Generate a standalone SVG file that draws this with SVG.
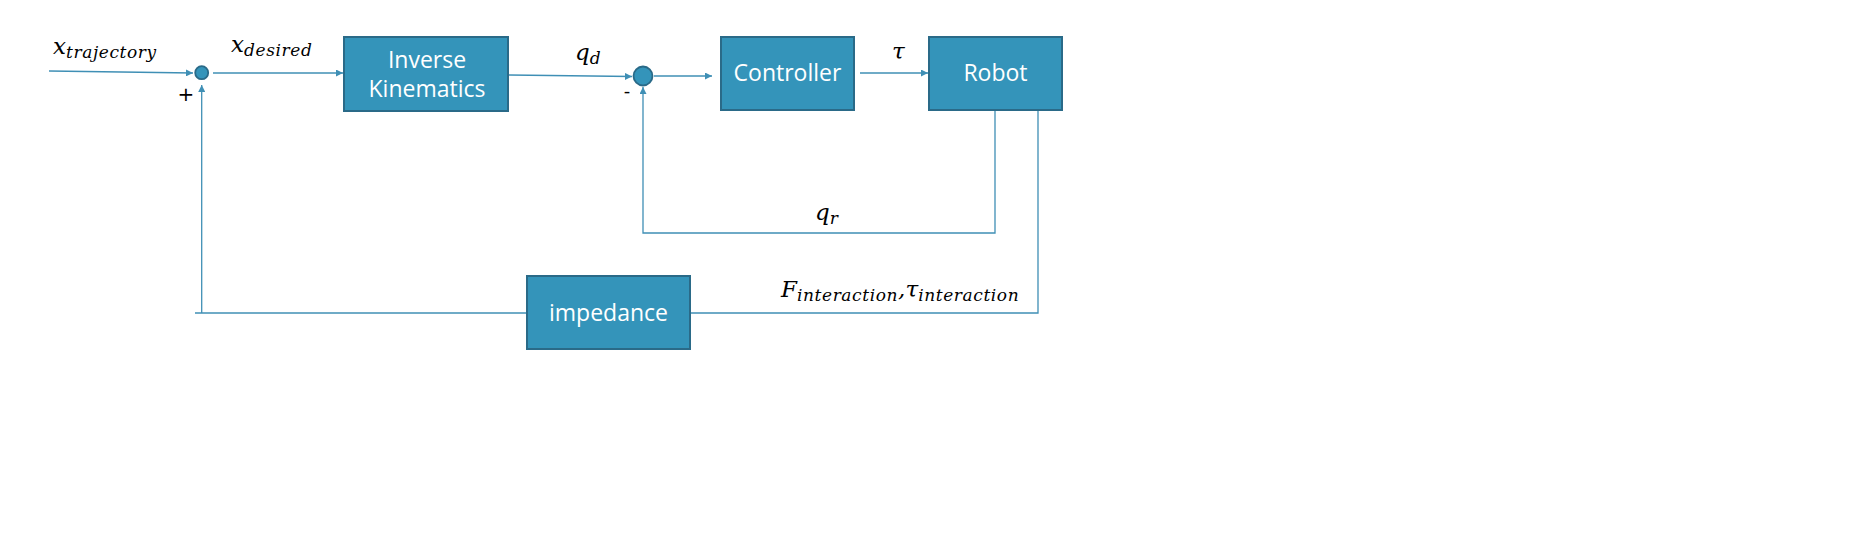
<svg xmlns="http://www.w3.org/2000/svg" width="1874" height="554" viewBox="0 0 1874 554">
<defs>
<marker id="arr" viewBox="0 0 10 10" refX="10" refY="5" markerWidth="7" markerHeight="7" markerUnits="userSpaceOnUse" orient="auto">
<path d="M0,0 L10,5 L0,10 z" fill="#3F8FB5"/>
</marker>
<style>
.box{fill:#3494BA;stroke:#2A6A88;stroke-width:2}
.lbl{font-family:"Open Sans","Noto Sans",sans-serif;font-size:23px;fill:#FFFFFF;text-anchor:middle}
.ln{fill:none;stroke:#3F8FB5;stroke-width:1.3}
.m{font-family:"DejaVu Serif","Liberation Serif",serif;font-style:italic;font-size:23px;fill:#000}
.s{font-size:17px;letter-spacing:0.6px}
.sum{fill:#3494BA;stroke:#2A6A88;stroke-width:1.8}
</style>
</defs>
<rect width="1874" height="554" fill="#FFFFFF"/>
<g id="connectors">
<path class="ln" d="M49,71 L193,73" marker-end="url(#arr)"/>
<path class="ln" d="M213,73 L343,73" marker-end="url(#arr)"/>
<path class="ln" d="M509,75 L632,76.5" marker-end="url(#arr)"/>
<path class="ln" d="M654,76 L712,76" marker-end="url(#arr)"/>
<path class="ln" d="M860,73 L928,73" marker-end="url(#arr)"/>
<path class="ln" d="M995,110 L995,233 L643,233 L643,87" marker-end="url(#arr)"/>
<path class="ln" d="M1038,110 L1038,313 L690,313"/>
<path class="ln" d="M527,313 L195,313"/>
<path class="ln" d="M201.7,313 L201.7,85" marker-end="url(#arr)"/>
</g>
<g id="sum1"><circle class="sum" cx="201.7" cy="72.7" r="6.5"/></g>
<g id="sum2"><circle class="sum" cx="643" cy="76" r="9.5"/></g>
<g id="ik"><rect class="box" x="344" y="37" width="164" height="74"/><text class="lbl" x="427" y="68">Inverse</text><text class="lbl" x="427" y="97">Kinematics</text></g>
<g id="controller"><rect class="box" x="721" y="37" width="133" height="73"/><text class="lbl" x="787.5" y="81">Controller</text></g>
<g id="robot"><rect class="box" x="929" y="37" width="133" height="73"/><text class="lbl" x="995.5" y="81">Robot</text></g>
<g id="impedance"><rect class="box" x="527" y="276" width="163" height="73"/><text class="lbl" x="608.5" y="321">impedance</text></g>
<g id="labels">
<text class="m" x="53" y="54">x<tspan class="s" dy="4">trajectory</tspan></text>
<text class="m" x="231" y="52">x<tspan class="s" dy="4">desired</tspan></text>
<text class="m" x="575" y="60">q<tspan class="s" dy="4">d</tspan></text>
<text class="m" x="892" y="59">τ</text>
<text class="m" x="815" y="220">q<tspan class="s" dy="4">r</tspan></text>
<text class="m" x="781" y="297">F<tspan class="s" dy="4">interaction</tspan><tspan dy="-4">,</tspan>τ<tspan class="s" dy="4">interaction</tspan></text>
<text x="186" y="101" font-family="DejaVu Sans, sans-serif" font-size="20" text-anchor="middle" fill="#000">+</text>
<text x="627" y="97" font-family="DejaVu Sans, sans-serif" font-size="18" text-anchor="middle" fill="#000">-</text>
</g>
</svg>
